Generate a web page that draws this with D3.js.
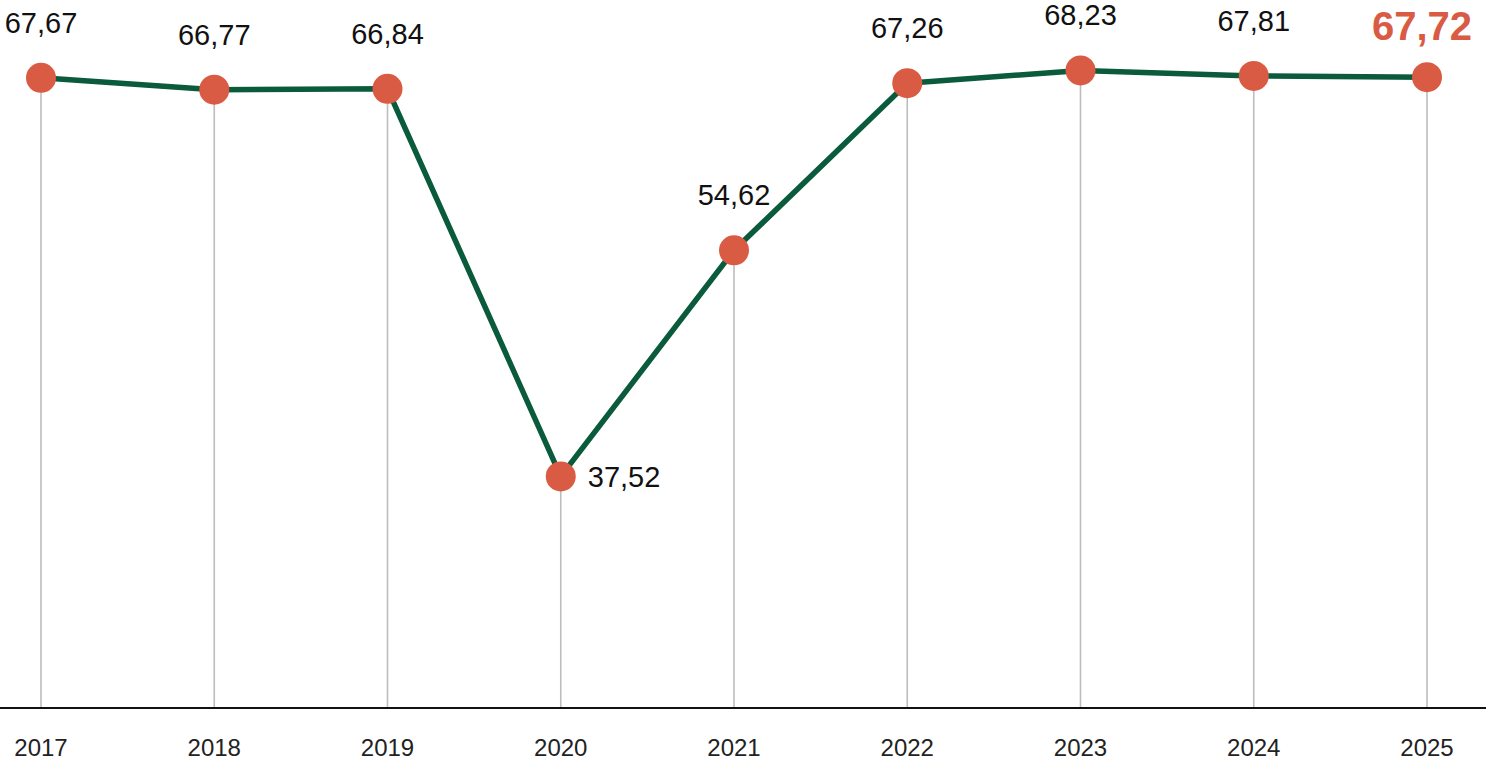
<!DOCTYPE html>
<html>
<head>
<meta charset="utf-8">
<script src="https://cdn.jsdelivr.net/npm/d3@7"></script>
<style>
  html, body { margin: 0; padding: 0; background: #fff; }
  svg { display: block; font-family: "Liberation Sans", Arial, sans-serif; }
</style>
</head>
<body>
<svg id="chart"></svg>
<script>
// data
const years  = ['2017', '2018', '2019', '2020', '2021', '2022', '2023', '2024', '2025'];
const values = [67.67, 66.77, 66.84, 37.52, 54.62, 67.26, 68.23, 67.81, 67.72];
const labels = ['67,67', '66,77', '66,84', '37,52', '54,62', '67,26', '68,23', '67,81', '67,72'];

const W = 1486, H = 762;
const baseY = 708;

const svg = d3.select('#chart').attr('width', W).attr('height', H);

const x = d3.scalePoint().domain(years).range([41, 1427]);
const y = d3.scaleLinear().domain([20, 70]).range([baseY, 47]);

const pts = years.map((yr, i) => ({ yr, v: values[i], lab: labels[i], i }));

// vertical drop lines
svg.append('g').selectAll('line')
  .data(pts).join('line')
    .attr('x1', d => x(d.yr)).attr('x2', d => x(d.yr))
    .attr('y1', d => y(d.v)).attr('y2', baseY)
    .attr('stroke', '#bdbdbd')
    .attr('stroke-width', 1.6);

// baseline
svg.append('line')
  .attr('x1', 0).attr('x2', W)
  .attr('y1', baseY).attr('y2', baseY)
  .attr('stroke', '#111')
  .attr('stroke-width', 2);

// year labels
svg.append('g').selectAll('text')
  .data(years).join('text')
    .attr('x', d => x(d))
    .attr('y', 756)
    .attr('text-anchor', 'middle')
    .attr('font-size', 24)
    .attr('fill', '#222')
    .text(d => d);

// line
const line = d3.line().x(d => x(d.yr)).y(d => y(d.v));
svg.append('path')
  .datum(pts)
  .attr('d', line)
  .attr('fill', 'none')
  .attr('stroke', '#0a5a3c')
  .attr('stroke-width', 5.5)
  .attr('stroke-linejoin', 'round');

// dots
svg.append('g').selectAll('circle')
  .data(pts).join('circle')
    .attr('cx', d => x(d.yr))
    .attr('cy', d => y(d.v))
    .attr('r', 15)
    .attr('fill', '#d95b43');

// value labels
const last = pts.length - 1;
svg.append('g').selectAll('text')
  .data(pts).join('text')
    .attr('x', d => {
      if (d.yr === '2020') return x(d.yr) + 27;
      if (d.i === last) return x(d.yr) + 45;
      return x(d.yr);
    })
    .attr('y', d => {
      if (d.yr === '2020') return y(d.v) + 11;
      if (d.i === last) return y(d.v) - 37;
      return y(d.v) - 45;
    })
    .attr('text-anchor', d => d.yr === '2020' ? 'start' : (d.i === last ? 'end' : 'middle'))
    .attr('font-size', d => d.i === last ? 40 : 29)
    .attr('font-weight', d => d.i === last ? 'bold' : 'normal')
    .attr('fill', d => d.i === last ? '#d95b43' : '#111')
    .text(d => d.lab);
</script>
</body>
</html>
